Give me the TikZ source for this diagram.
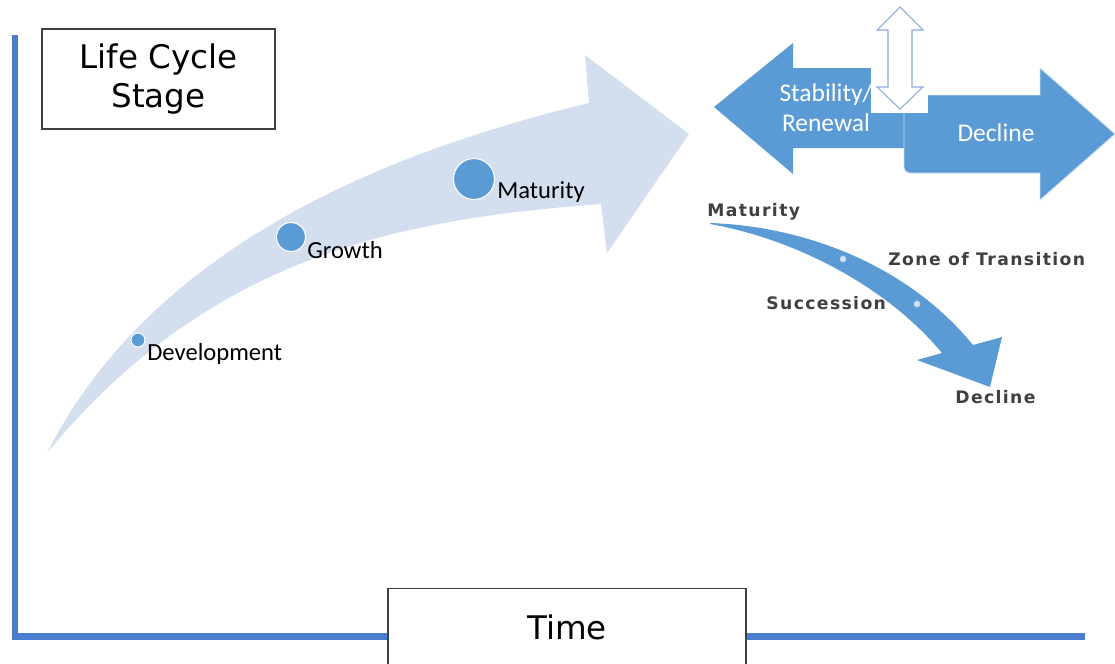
\documentclass[tikz,border=0pt]{standalone}
\usepackage{fontspec}
\setmainfont{Carlito}
\newfontfamily\boxfont{DejaVu Sans}
\newfontfamily\phasefont[LetterSpace=8]{DejaVu Sans}
\usetikzlibrary{positioning}
\definecolor{axisblue}{HTML}{4A7DCF}
\definecolor{accblue}{HTML}{5B9BD5}
\definecolor{paleblue}{HTML}{D3DEEF}
\definecolor{outlineblue}{HTML}{8FAADC}
\definecolor{phasegray}{HTML}{404040}
\tikzstyle{axis} = [axisblue, line width=0.14cm]
\tikzstyle{titlebox} = [rectangle, draw=black!75, line width=0.8pt, fill=white, align=center, font=\boxfont\fontsize{18.5}{22.7}\selectfont]
\tikzstyle{dot} = [circle, fill=accblue, draw=white, line width=0.6pt, inner sep=0pt]
\tikzstyle{stage} = [inner sep=0pt, anchor=base west, font=\fontsize{14}{16}\selectfont]
\tikzstyle{phase} = [inner sep=0pt, anchor=base west, text=phasegray, font=\phasefont\bfseries\fontsize{9.8}{11}\selectfont]
\tikzstyle{inarrow} = [inner sep=0pt, text=white, align=center, font=\fontsize{14.5}{17}\selectfont]
\tikzstyle{stop} = [circle, fill=white!75!accblue, draw=white!55!accblue, line width=0.4pt, inner sep=0pt, minimum size=0.12cm]

\begin{document}
\begin{tikzpicture}[x=0.02cm, y=-0.02cm]
  \useasboundingbox (0,0) rectangle (1115,663);
  \clip (0,0) rectangle (1115,663);

  % axes
  \draw [axis] (15,35) |- (1085,636);

  % big curved arrow
  \fill [paleblue] (47,453) .. controls (140,270) and (339,163) .. (589,103)
    -- (585,55) -- (689,134) -- (607,253) -- (601,204)
    .. controls (401,219) and (210,255) .. (47,453) -- cycle;

  \node (dev) [dot, minimum size=0.28cm] at (138,340) {};
  \node (grow) [dot, minimum size=0.58cm] at (291,237) {};
  \node (mat) [dot, minimum size=0.82cm] at (474,179) {};
  \node (devtext) [stage] at (147,360) {Development};
  \node (growtext) [stage] at (307,258) {Growth};
  \node (mattext) [stage] at (497,198) {Maturity};

  % stability / decline arrows
  \fill [accblue] (714,107) -- (793,43) -- (793,68) -- (910,68) -- (910,148)
    -- (793,148) -- (793,174) -- cycle;
  \node (stab) [inarrow] at (826,108) {Stability/\\Renewal};
  \filldraw [fill=accblue, draw=white!70!accblue, line width=0.5pt]
    (904,95) -- (1040,95) -- (1040,68) -- (1115,134) -- (1040,200) -- (1040,173)
    [rounded corners=3pt] -- (904,173) [sharp corners] -- cycle;
  \node (decl) [inarrow] at (996,133) {Decline};
  \fill [white] (871,60) rectangle (928,113);
  \filldraw [fill=white, draw=outlineblue, line width=0.6pt]
    (900,7) -- (923,30) -- (912,30) -- (912,87) -- (923,87) -- (900,109)
    -- (877,87) -- (888,87) -- (888,30) -- (877,30) -- cycle;

  % transition arrow
  \fill [accblue] (710,223) .. controls (800,226) and (905,262) .. (973,345)
    -- (1002,337) -- (990,387) -- (917,360) -- (942,353)
    .. controls (890,290) and (800,240) .. (710,224) -- cycle;
  \node (s1) [stop] at (843,259) {};
  \node (s2) [stop] at (917,304) {};
  \node (pmat) [phase] at (707,216) {Maturity};
  \node (pzone) [phase] at (888,265) {Zone of Transition};
  \node (psucc) [phase] at (766,309) {Succession};
  \node (pdecl) [phase] at (955,403) {Decline};

  % axis labels
  \node (stagebox) [titlebox, minimum width=4.66cm, minimum height=2cm] at (158.5,79) {Life Cycle\\Stage};
  \node (timebox) [titlebox, anchor=north, minimum width=7.16cm, minimum height=1.56cm] at (567,588) {Time};
\end{tikzpicture}
\end{document}
